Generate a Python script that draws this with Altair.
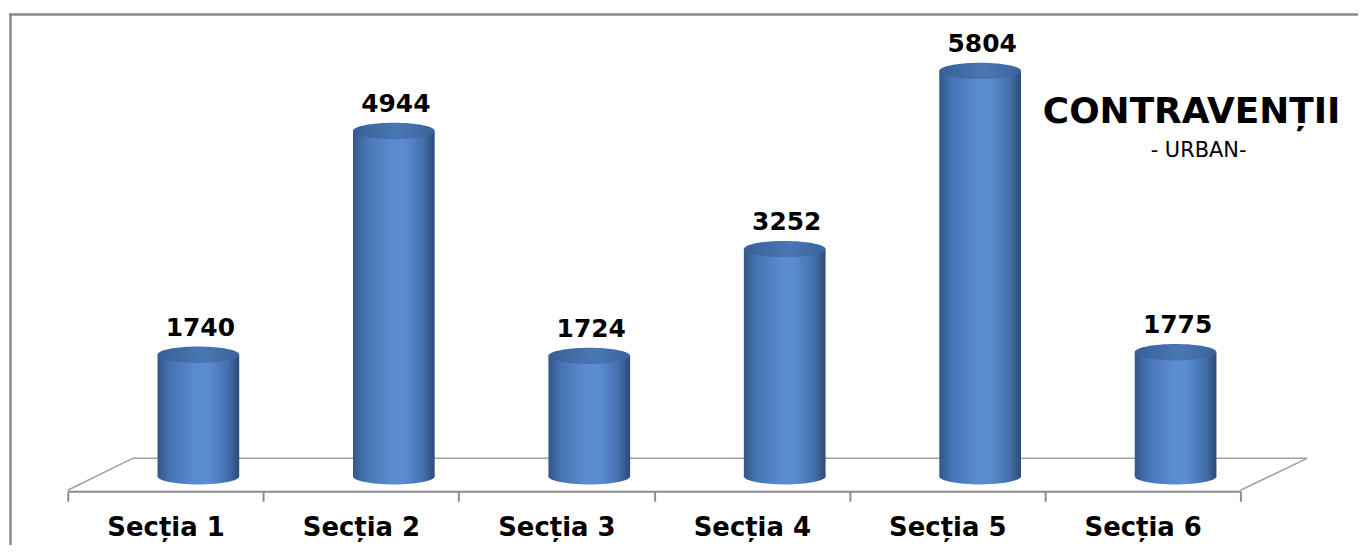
import altair as alt
import pandas as pd

# ---- data ----
categories = ["Secția 1", "Secția 2", "Secția 3", "Secția 4", "Secția 5", "Secția 6"]
values = [1740, 4944, 1724, 3252, 5804, 1775]
title_main = "CONTRAVENȚII"
title_sub = "- URBAN-"

df = pd.DataFrame({"sectia": categories, "valoare": values, "baza": [0] * len(values)})
one = pd.DataFrame({"k": [0]})

W, H = 1177, 479
BAR_W = 82
SHIFT = 33
FONT = "DejaVu Sans"
GRAY = "#8c8c8c"

x_enc = alt.X(
    "sectia:N",
    sort=categories,
    scale=alt.Scale(paddingInner=0, paddingOuter=0),
    axis=alt.Axis(
        title=None,
        labelAngle=0,
        labelFont=FONT,
        labelFontWeight="bold",
        labelFontSize=26,
        labelColor="black",
        labelPadding=13,
        domainColor=GRAY,
        domainWidth=2,
        tickColor=GRAY,
        tickWidth=2,
        tickSize=10,
        tickBand="extent",
        grid=False,
    ),
)
y_scale = alt.Scale(domain=[-214, 6619], zero=False, nice=False)

body_grad = alt.LinearGradient(
    gradient="linear",
    stops=[
        alt.GradientStop(offset=0, color="#33568a"),
        alt.GradientStop(offset=0.15, color="#4574b2"),
        alt.GradientStop(offset=0.45, color="#5a8bd0"),
        alt.GradientStop(offset=0.62, color="#5b8dd2"),
        alt.GradientStop(offset=0.86, color="#4470ad"),
        alt.GradientStop(offset=1, color="#2c4a76"),
    ],
    x1=0, x2=1, y1=0, y2=0,
)
top_grad = alt.LinearGradient(
    gradient="linear",
    stops=[
        alt.GradientStop(offset=0, color="#385f95"),
        alt.GradientStop(offset=0.55, color="#4a77b4"),
        alt.GradientStop(offset=1, color="#3a6399"),
    ],
    x1=0, x2=1, y1=0, y2=0,
)
ellipse = "M-1,0A1,0.2,0,1,0,1,0A1,0.2,0,1,0,-1,0Z"

base = alt.Chart(df)

bottom = base.mark_point(
    shape=ellipse, size=BAR_W * BAR_W, filled=True, fill=body_grad, opacity=1,
    strokeWidth=0, xOffset=SHIFT,
).encode(x=x_enc, y=alt.Y("baza:Q", scale=y_scale, axis=None))

body = base.mark_bar(size=BAR_W, fill=body_grad, xOffset=SHIFT).encode(
    x=x_enc,
    y=alt.Y("valoare:Q", scale=y_scale, axis=None),
    y2="baza:Q",
)

top = base.mark_point(
    shape=ellipse, size=BAR_W * BAR_W, filled=True, fill=top_grad, opacity=1,
    strokeWidth=0, xOffset=SHIFT,
).encode(x=x_enc, y=alt.Y("valoare:Q", scale=y_scale, axis=None))

labels = base.mark_text(
    font=FONT, fontWeight="bold", fontSize=25, color="black",
    baseline="middle", dx=SHIFT + 2, dy=-27,
).encode(
    x=x_enc,
    y=alt.Y("valoare:Q", scale=y_scale, axis=None),
    text=alt.Text("valoare:Q", format="d"),
)

# ---- 3D floor outline and chart frame (decoration) ----
floor_color = "#a0a0a0"
back_line = alt.Chart(one).mark_rule(color=floor_color, strokeWidth=1.5).encode(
    x=alt.value(65), x2=alt.value(1244), y=alt.value(446)
)
left_diag = alt.Chart(one).mark_rule(color=floor_color, strokeWidth=1.5).encode(
    x=alt.value(0), y=alt.value(478), x2=alt.value(65), y2=alt.value(446)
)
right_diag = alt.Chart(one).mark_rule(color=floor_color, strokeWidth=1.5).encode(
    x=alt.value(1177), y=alt.value(478), x2=alt.value(1244), y2=alt.value(446)
)
frame_top = alt.Chart(one).mark_rule(color="#8a8a8a", strokeWidth=2.5).encode(
    x=alt.value(-58.5), x2=alt.value(1400), y=alt.value(0.5)
)
frame_left = alt.Chart(one).mark_rule(color="#8a8a8a", strokeWidth=2.5).encode(
    x=alt.value(-57.5), y=alt.value(-0.5), y2=alt.value(700)
)

t_main = alt.Chart(one).mark_text(
    text=title_main, font=FONT, fontWeight="bold", fontSize=36, color="black",
    align="center", baseline="middle",
).encode(x=alt.value(1128), y=alt.value(98))
t_sub = alt.Chart(one).mark_text(
    text=title_sub, font=FONT, fontSize=21, color="black",
    align="center", baseline="middle",
).encode(x=alt.value(1135), y=alt.value(138))

chart = alt.layer(
    frame_top, frame_left, back_line, left_diag, right_diag,
    bottom, body, top, labels, t_main, t_sub
).properties(
    width=W, height=H,
    autosize=alt.AutoSizeParams(type="none"),
    padding={"left": 60, "top": 5, "right": 118, "bottom": 53},
    view=alt.ViewBackground(stroke="transparent", strokeWidth=0, strokeOpacity=0),
).configure_view(strokeWidth=0, strokeOpacity=0).configure(background="white")

chart.save("out.html", embed_options={"renderer": "svg", "actions": False})
